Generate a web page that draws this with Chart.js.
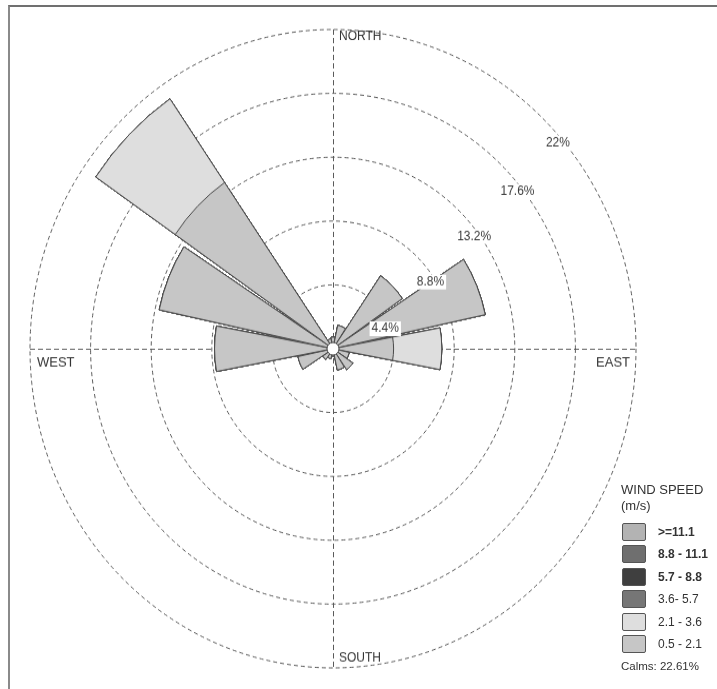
<!DOCTYPE html>
<html>
<head>
<meta charset="utf-8">
<script src="https://cdn.jsdelivr.net/npm/chart.js@4/dist/chart.umd.min.js"></script>
<style>
  html, body { margin: 0; padding: 0; background: #fff; }
  #wrap { position: relative; width: 717px; height: 689px; overflow: hidden; background: #fff; }
  #c { position: absolute; left: 0; top: 0; width: 717px; height: 654px; transform: scaleY(1.0535); transform-origin: 0 0; }
  #frame { position: absolute; left: 8px; top: 5px; width: 720px; height: 700px; border-top: 2px solid #707070; border-left: 2px solid #8a8a8a; pointer-events: none; }
  #legend { position: absolute; left: 0; top: 0; width: 717px; height: 689px; pointer-events: none;
            font-family: "Liberation Sans", Arial, sans-serif; color: #333; }
  .lg { position: absolute; white-space: nowrap; }
  .sw { position: absolute; width: 22px; height: 16px; border: 1px solid #555; border-radius: 2px; }
</style>
</head>
<body>
<div id="wrap">
  <canvas id="c" width="717" height="654"></canvas>
  <div id="frame"></div>
  <div id="legend"></div>
</div>
<script>
// ---- data ----
const directions = ['N','NNE','NE','ENE','E','ESE','SE','SSE','S','SSW','SW','WSW','W','WNW','NW','NNW'];
const speedClasses = ['0.5 - 2.1', '2.1 - 3.6', '3.6- 5.7', '5.7 - 8.8', '8.8 - 11.1', '>=11.1'];
const spd_0_5_2_1  = [0.8, 1.65, 6.1, 11.3, 4.4, 1.2, 1.75, 1.5, 0.5, 0.7, 0.9, 2.6, 8.6, 12.9, 13.9, 0.7];
const spd_2_1_3_6  = [0, 0, 0, 0, 3.5, 0, 0, 0, 0, 0, 0, 0, 0, 0, 7.0, 0];
const spd_3_6_5_7  = [0, 0, 0, 0, 0, 0, 0, 0, 0, 0, 0, 0, 0, 0, 0, 0];
const spd_5_7_8_8  = [0, 0, 0, 0, 0, 0, 0, 0, 0, 0, 0, 0, 0, 0, 0, 0];
const spd_8_8_11_1 = [0, 0, 0, 0, 0, 0, 0, 0, 0, 0, 0, 0, 0, 0, 0, 0];
const spd_11_1_up  = [0, 0, 0, 0, 0, 0, 0, 0, 0, 0, 0, 0, 0, 0, 0, 0];
const ringTicks = [4.4, 8.8, 13.2, 17.6, 22];
const compassLabels = ['NORTH', 'EAST', 'SOUTH', 'WEST'];
const calmsPct = 22.61;

// ---- styles ----
const classColors = ['#c6c6c6', '#dedede', '#767676', '#3f3f3f', '#6f6f6f', '#b3b3b3'];
const ringLabelBearings = [70, 57, 53, 51, 49];
const FONT = '"Liberation Sans", Arial, sans-serif';

// ---- build stacked (cumulative) series with small gaps between sectors ----
const series = [spd_0_5_2_1, spd_2_1_3_6, spd_3_6_5_7, spd_5_7_8_8, spd_8_8_11_1, spd_11_1_up];
const labels32 = [];
directions.forEach(d => { labels32.push(d); labels32.push(''); });
const cumulative = [];
series.forEach((s, k) => {
  cumulative.push(s.map((v, i) => (k === 0 ? 0 : cumulative[k - 1][i]) + v));
});
const datasets = cumulative.map((cum, k) => {
  const data = [];
  cum.forEach(v => { data.push(v); data.push(0); });
  return {
    label: speedClasses[k],
    data: data,
    backgroundColor: classColors[k],
    borderColor: '#4a4a4a',
    borderWidth: 1,
    angle: (ctx) => (ctx.dataIndex % 2 === 0 ? 21 : 1.5)
  };
});

const decor = {
  id: 'decor',
  beforeDatasetsDraw(chart) {
    const r = chart.scales.r, ctx = chart.ctx;
    const cx = r.xCenter, cy = r.yCenter, R = r.drawingArea;
    ctx.save();
    ctx.strokeStyle = '#5a5a5a';
    ctx.lineWidth = 1;
    ctx.setLineDash([5, 3]);
    ctx.beginPath();
    ctx.moveTo(cx + 0.5, cy - R); ctx.lineTo(cx + 0.5, cy + R);
    ctx.moveTo(cx - R, cy + 0.5); ctx.lineTo(cx + R, cy + 0.5);
    ctx.stroke();
    ctx.setLineDash([]);
    ctx.fillStyle = '#333';
    ctx.font = '12px ' + FONT;
    ctx.textAlign = 'left'; ctx.textBaseline = 'top';
    ctx.fillText(compassLabels[0], cx + 6, cy - R + 1);
    ctx.textBaseline = 'alphabetic';
    ctx.fillText(compassLabels[2], cx + 6, cy + R - 6);
    ctx.font = '13px ' + FONT;
    ctx.fillText(compassLabels[3], cx - R + 7, cy + 17);
    ctx.textAlign = 'right';
    ctx.fillText(compassLabels[1], cx + R - 6, cy + 17);
    ctx.restore();
  },
  afterDatasetsDraw(chart) {
    const r = chart.scales.r, ctx = chart.ctx;
    const cx = r.xCenter, cy = r.yCenter;
    ctx.save();
    ctx.beginPath();
    ctx.arc(cx, cy, 6, 0, Math.PI * 2);
    ctx.fillStyle = '#fff';
    ctx.fill();
    ctx.strokeStyle = '#4a4a4a';
    ctx.lineWidth = 1;
    ctx.stroke();
    ctx.font = '12px ' + FONT;
    ctx.textAlign = 'center'; ctx.textBaseline = 'middle';
    ringTicks.forEach((v, i) => {
      const d = r.getDistanceFromCenterForValue(v) - 5;
      const b = ringLabelBearings[i] * Math.PI / 180;
      const x = cx + d * Math.sin(b), y = cy - d * Math.cos(b);
      const txt = v + '%';
      const w = ctx.measureText(txt).width;
      ctx.fillStyle = '#fff';
      ctx.fillRect(x - w / 2 - 2, y - 7, w + 4, 14);
      ctx.fillStyle = '#3a3a3a';
      ctx.fillText(txt, x, y);
    });
    ctx.restore();
  }
};

new Chart(document.getElementById('c'), {
  type: 'polarArea',
  data: { labels: labels32, datasets: datasets },
  options: {
    responsive: false,
    animation: false,
    events: [],
    devicePixelRatio: 1,
    layout: { padding: { left: 30, right: 81, top: 28, bottom: 20 } },
    plugins: { legend: { display: false }, tooltip: { enabled: false } },
    scales: {
      r: {
        min: 0, max: 22,
        startAngle: -10.5,
        ticks: { display: false, stepSize: 4.4 },
        angleLines: { display: false },
        pointLabels: { display: false },
        grid: { circular: true, color: '#5a5a5a', lineWidth: 1 },
        border: { dash: [4, 3] }
      }
    }
  },
  plugins: [decor]
});

// ---- legend (HTML text) ----
const lg = document.getElementById('legend');
function addText(txt, left, top, size, weight) {
  const e = document.createElement('div');
  e.className = 'lg';
  e.textContent = txt;
  e.style.left = left + 'px'; e.style.top = top + 'px';
  e.style.fontSize = size + 'px';
  if (weight) e.style.fontWeight = weight;
  lg.appendChild(e);
}
addText('WIND SPEED', 621, 482, 13);
addText('(m/s)', 621, 498, 13);
const order = speedClasses.map((s, i) => i).reverse();
order.forEach((k, row) => {
  const top = 523 + row * 22.4;
  const sw = document.createElement('div');
  sw.className = 'sw';
  sw.style.left = '622px'; sw.style.top = top + 'px';
  sw.style.background = classColors[k];
  lg.appendChild(sw);
  addText(speedClasses[k], 658, top + 2, 12, row < 3 ? 'bold' : null);
});
addText('Calms: ' + calmsPct.toFixed(2) + '%', 621, 660, 11.5);
</script>
</body>
</html>
